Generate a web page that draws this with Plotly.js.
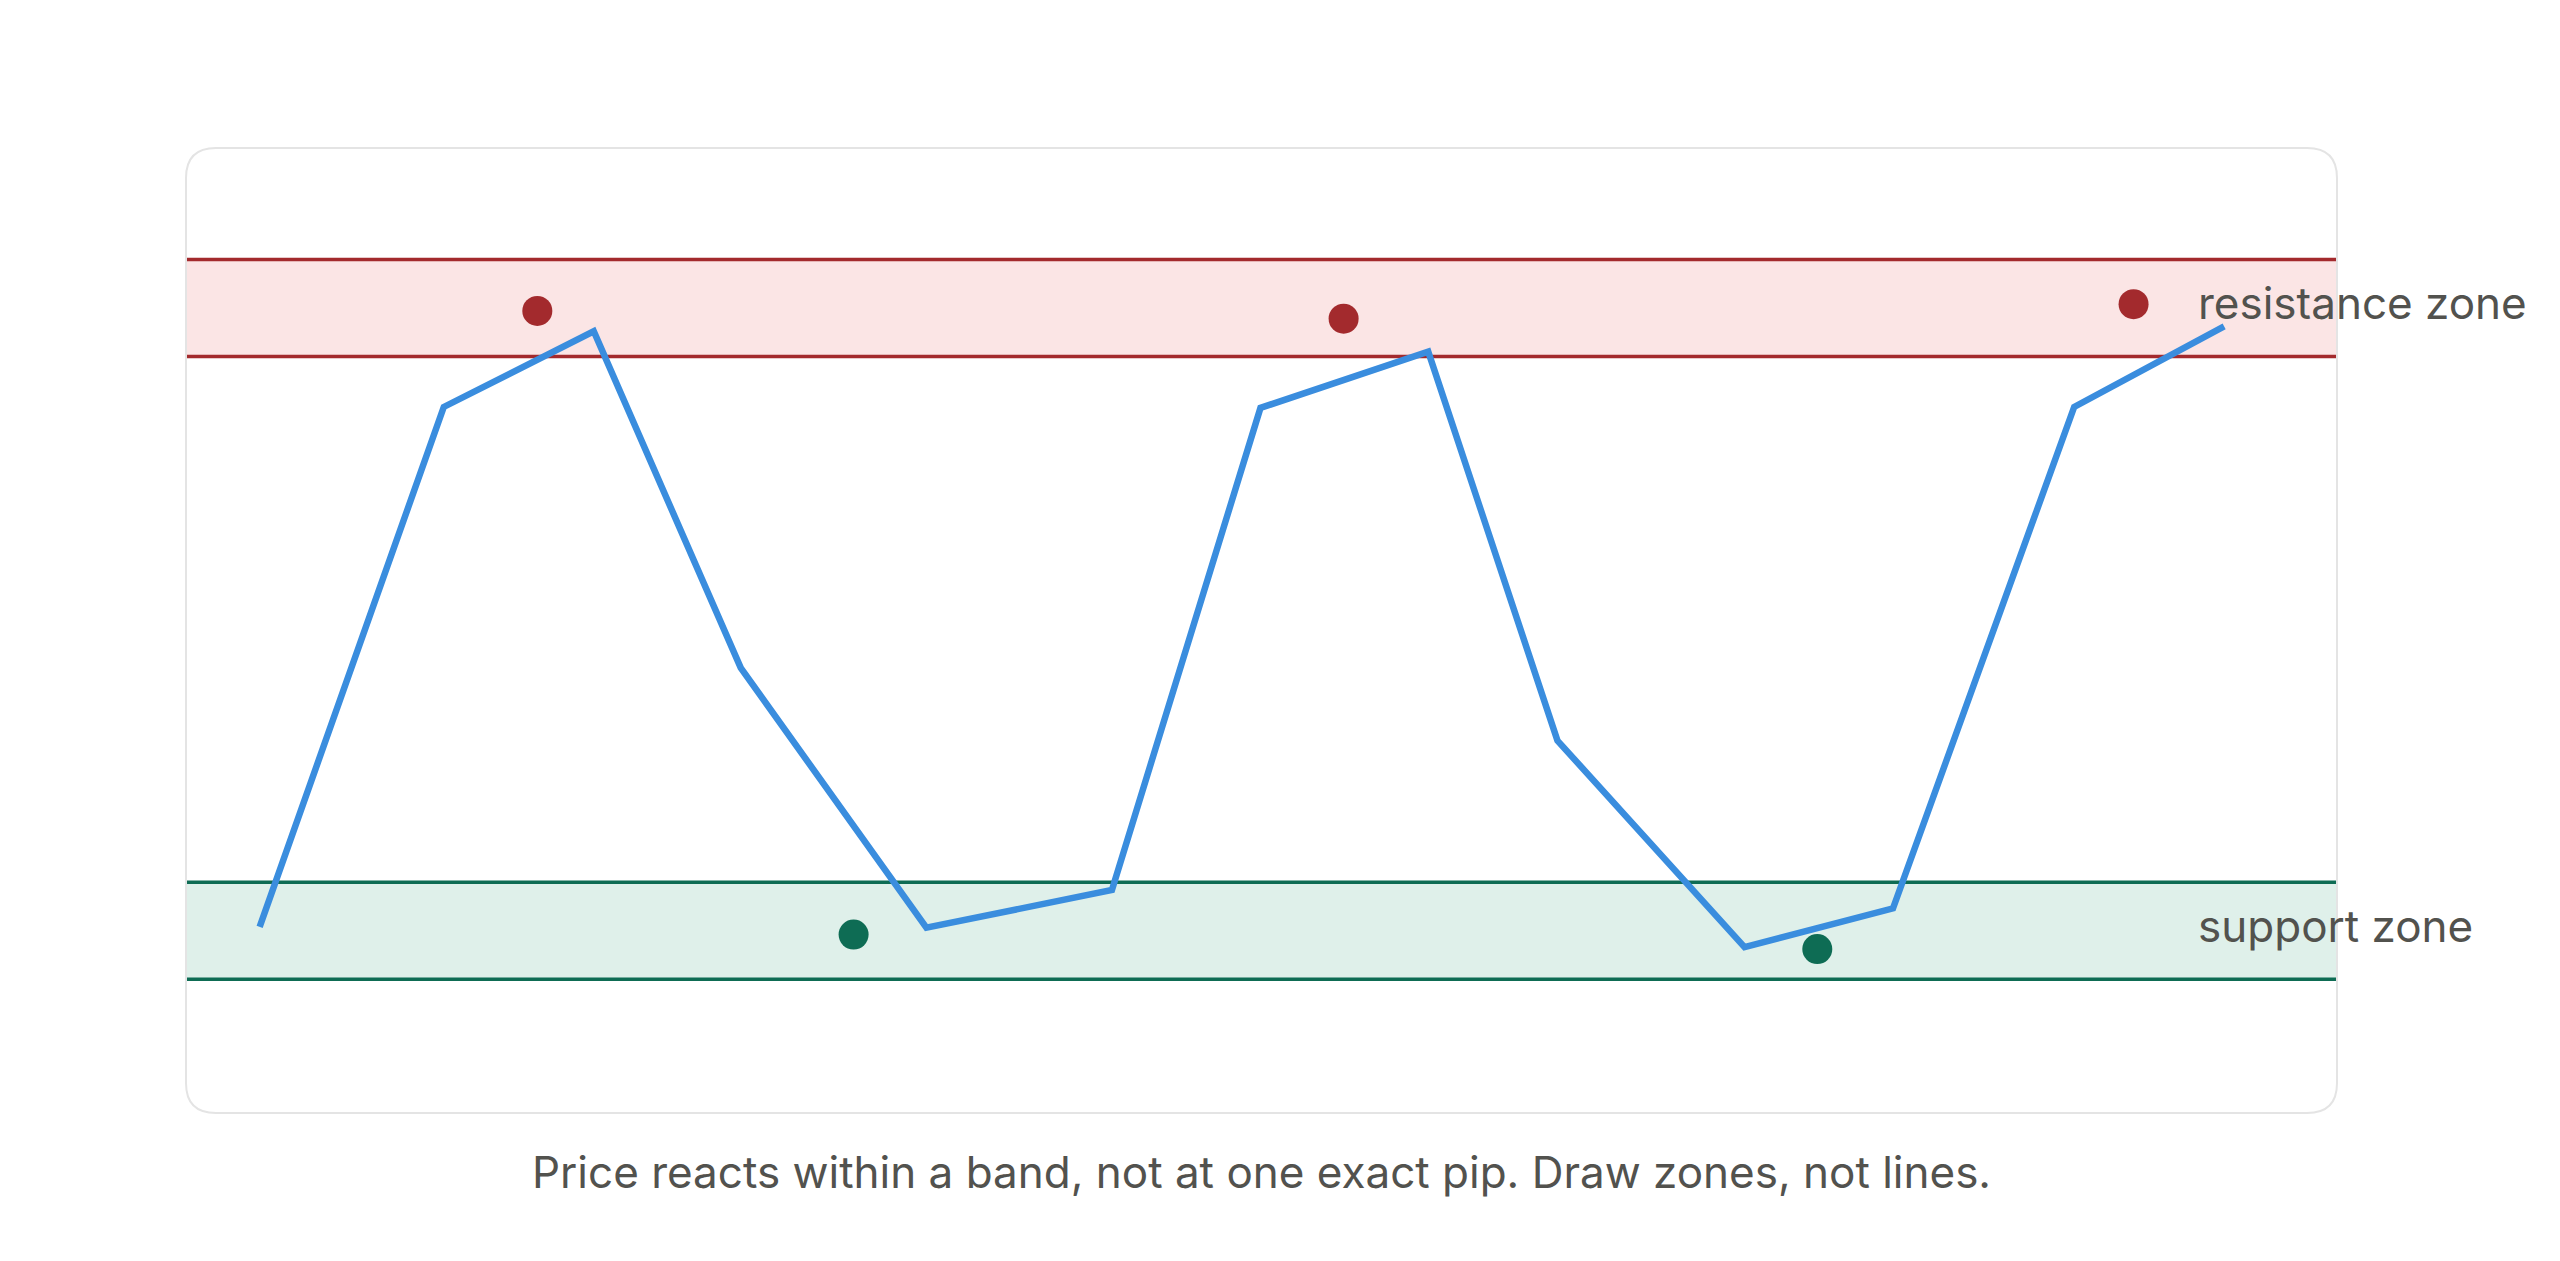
<!DOCTYPE html>
<html>
<head>
<meta charset="utf-8">
<script src="https://cdn.plot.ly/plotly-3.0.1.min.js"></script>
<style>
html,body{margin:0;padding:0;background:#ffffff;overflow:hidden;}
#chart{width:2560px;height:1261px;}
</style>
</head>
<body>
<div id="chart"></div>
<script>
// ---- data ----
const timeIdx = [0, 1.24, 2.25, 3.24, 4.49, 5.74, 6.74, 7.87, 8.74, 10.0, 11.0, 12.22, 13.23];
const price   = [19.2, 72.8, 80.6, 45.9, 19.1, 23.0, 72.7, 78.5, 38.4, 17.1, 21.1, 72.8, 81.1];

const resistanceTouchX = [1.87, 7.30, 12.62];
const resistanceTouchY = [82.7, 81.9, 83.4];
const supportTouchX = [4.00, 10.49];
const supportTouchY = [18.4, 16.9];

const resistanceZone = [78.0, 88.0];
const supportZone = [13.8, 23.8];

const zoneLabels = ['resistance zone', 'support zone'];
const labelX = 13.04;
const caption = 'Price reacts within a band, not at one exact pip. Draw zones, not lines.';

const xRange = [-0.496, 13.99];
const yRange = [0, 99.5];

// ---- styles ----
const blue = 'rgb(58,141,222)';
const red = 'rgb(163,42,45)';
const redFill = 'rgb(251,229,229)';
const green = 'rgb(14,108,84)';
const greenFill = 'rgb(223,240,234)';
const textColor = 'rgb(82,82,78)';
const fontFam = 'Inter, "Open Sans", "Noto Sans", sans-serif';

const traces = [
  {x: timeIdx, y: price, type: 'scatter', mode: 'lines',
   line: {color: blue, width: 6.5}, hoverinfo: 'skip'},
  {x: resistanceTouchX, y: resistanceTouchY, type: 'scatter', mode: 'markers',
   marker: {color: red, size: 30, line: {width: 0}}, hoverinfo: 'skip'},
  {x: supportTouchX, y: supportTouchY, type: 'scatter', mode: 'markers',
   marker: {color: green, size: 30, line: {width: 0}}, hoverinfo: 'skip'}
];

// rounded card border (paper coordinates)
const plotW = 2560 - 186 - 223, plotH = 1261 - 148 - 148;
const rx = 30 / plotW, ry = 30 / plotH;
const cardPath = `M ${rx},0 L ${1-rx},0 Q 1,0 1,${ry} L 1,${1-ry} Q 1,1 ${1-rx},1 L ${rx},1 Q 0,1 0,${1-ry} L 0,${ry} Q 0,0 ${rx},0 Z`;

function zoneShapes(zone, fill, stroke) {
  return [
    {type: 'rect', xref: 'paper', yref: 'y', x0: 0, x1: 1, y0: zone[0], y1: zone[1],
     fillcolor: fill, line: {width: 0}, layer: 'below'},
    {type: 'line', xref: 'paper', yref: 'y', x0: 0, x1: 1, y0: zone[0], y1: zone[0],
     line: {color: stroke, width: 3.5}, layer: 'below'},
    {type: 'line', xref: 'paper', yref: 'y', x0: 0, x1: 1, y0: zone[1], y1: zone[1],
     line: {color: stroke, width: 3.5}, layer: 'below'}
  ];
}

const shapes = [
  ...zoneShapes(resistanceZone, redFill, red),
  ...zoneShapes(supportZone, greenFill, green),
  {type: 'path', xref: 'paper', yref: 'paper', path: cardPath,
   line: {color: 'rgb(228,228,228)', width: 2}, fillcolor: 'rgba(0,0,0,0)', layer: 'below'}
];

const annotations = [
  {x: labelX, y: (resistanceZone[0] + resistanceZone[1]) / 2, xref: 'x', yref: 'y',
   text: zoneLabels[0], showarrow: false, xanchor: 'left', yanchor: 'middle', yshift: 5,
   font: {family: fontFam, size: 44, color: textColor}},
  {x: labelX, y: (supportZone[0] + supportZone[1]) / 2, xref: 'x', yref: 'y',
   text: zoneLabels[1], showarrow: false, xanchor: 'left', yanchor: 'middle', yshift: 5,
   font: {family: fontFam, size: 44, color: textColor}},
  {x: 0.5, y: -0.061, xref: 'paper', yref: 'paper', text: caption, showarrow: false,
   xanchor: 'center', yanchor: 'middle',
   font: {family: fontFam, size: 44, color: textColor}}
];

const layout = {
  width: 2560, height: 1261,
  margin: {l: 186, r: 223, t: 148, b: 148, pad: 0},
  paper_bgcolor: '#ffffff', plot_bgcolor: 'rgba(0,0,0,0)',
  showlegend: false,
  hovermode: false,
  xaxis: {range: xRange, visible: false, fixedrange: true},
  yaxis: {range: yRange, visible: false, fixedrange: true},
  shapes: shapes,
  annotations: annotations
};

Plotly.newPlot('chart', traces, layout, {displayModeBar: false, staticPlot: true});
</script>
</body>
</html>
